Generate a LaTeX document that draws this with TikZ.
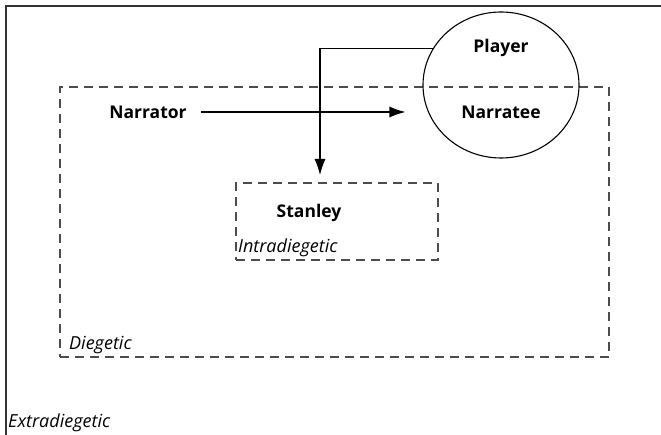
\documentclass[tikz,border=0pt]{standalone}
\usepackage{fontspec}
\setmainfont{Open Sans}
\usepackage{tikz}
\usetikzlibrary{positioning}
\usetikzlibrary{shapes.geometric}
\usetikzlibrary{arrows.meta}

\begin{document}
\begin{tikzpicture}[x=1pt,y=-1pt,>={Latex[length=16pt,width=11pt]},
  role/.style={font=\fontsize{17.5}{20}\selectfont\bfseries},
  level/.style={font=\fontsize{18}{20}\selectfont\itshape, anchor=west, inner sep=1pt},
  dashbox/.style={draw=black!70, line width=1.1pt, dash pattern=on 9pt off 6pt},
  ]

	\useasboundingbox (0,0) rectangle (661,435);

	% extradiegetic frame
	\draw[line width=1.3pt, black!80] (661,6) -- (6,6) -- (6,435);

	\node[dashbox, minimum width=549, minimum height=270, inner sep=0pt] (diegetic) at (334.5,222) {};
	\node[dashbox, minimum width=202, minimum height=77, inner sep=0pt] (intra) at (337,221.5) {};
	\node[ellipse, draw, line width=1.1pt, minimum width=156, minimum height=146, inner sep=0pt] (audience) at (501,85) {};

	\node[role] (player) at (501,48) {Player};
	\node[role] (narratee) at (501,112) {Narratee};
	\node[role] (narrator) at (148,112) {Narrator};
	\node[role] (stanley) at (309,213) {Stanley};

	\node[level] (intralab) at (237,248) {Intradiegetic};
	\node[level] (dieglab) at (68,345) {Diegetic};
	\node[level] (extralab) at (7,423) {Extradiegetic};

	\coordinate (drop) at (320,175);

	\draw[->, line width=1.1pt, shorten <=11pt, shorten >=17pt] (narrator) -- (narrator -| audience.west);
	\draw[->, line width=1.1pt] (audience.152) -| (drop);

\end{tikzpicture}
\end{document}
